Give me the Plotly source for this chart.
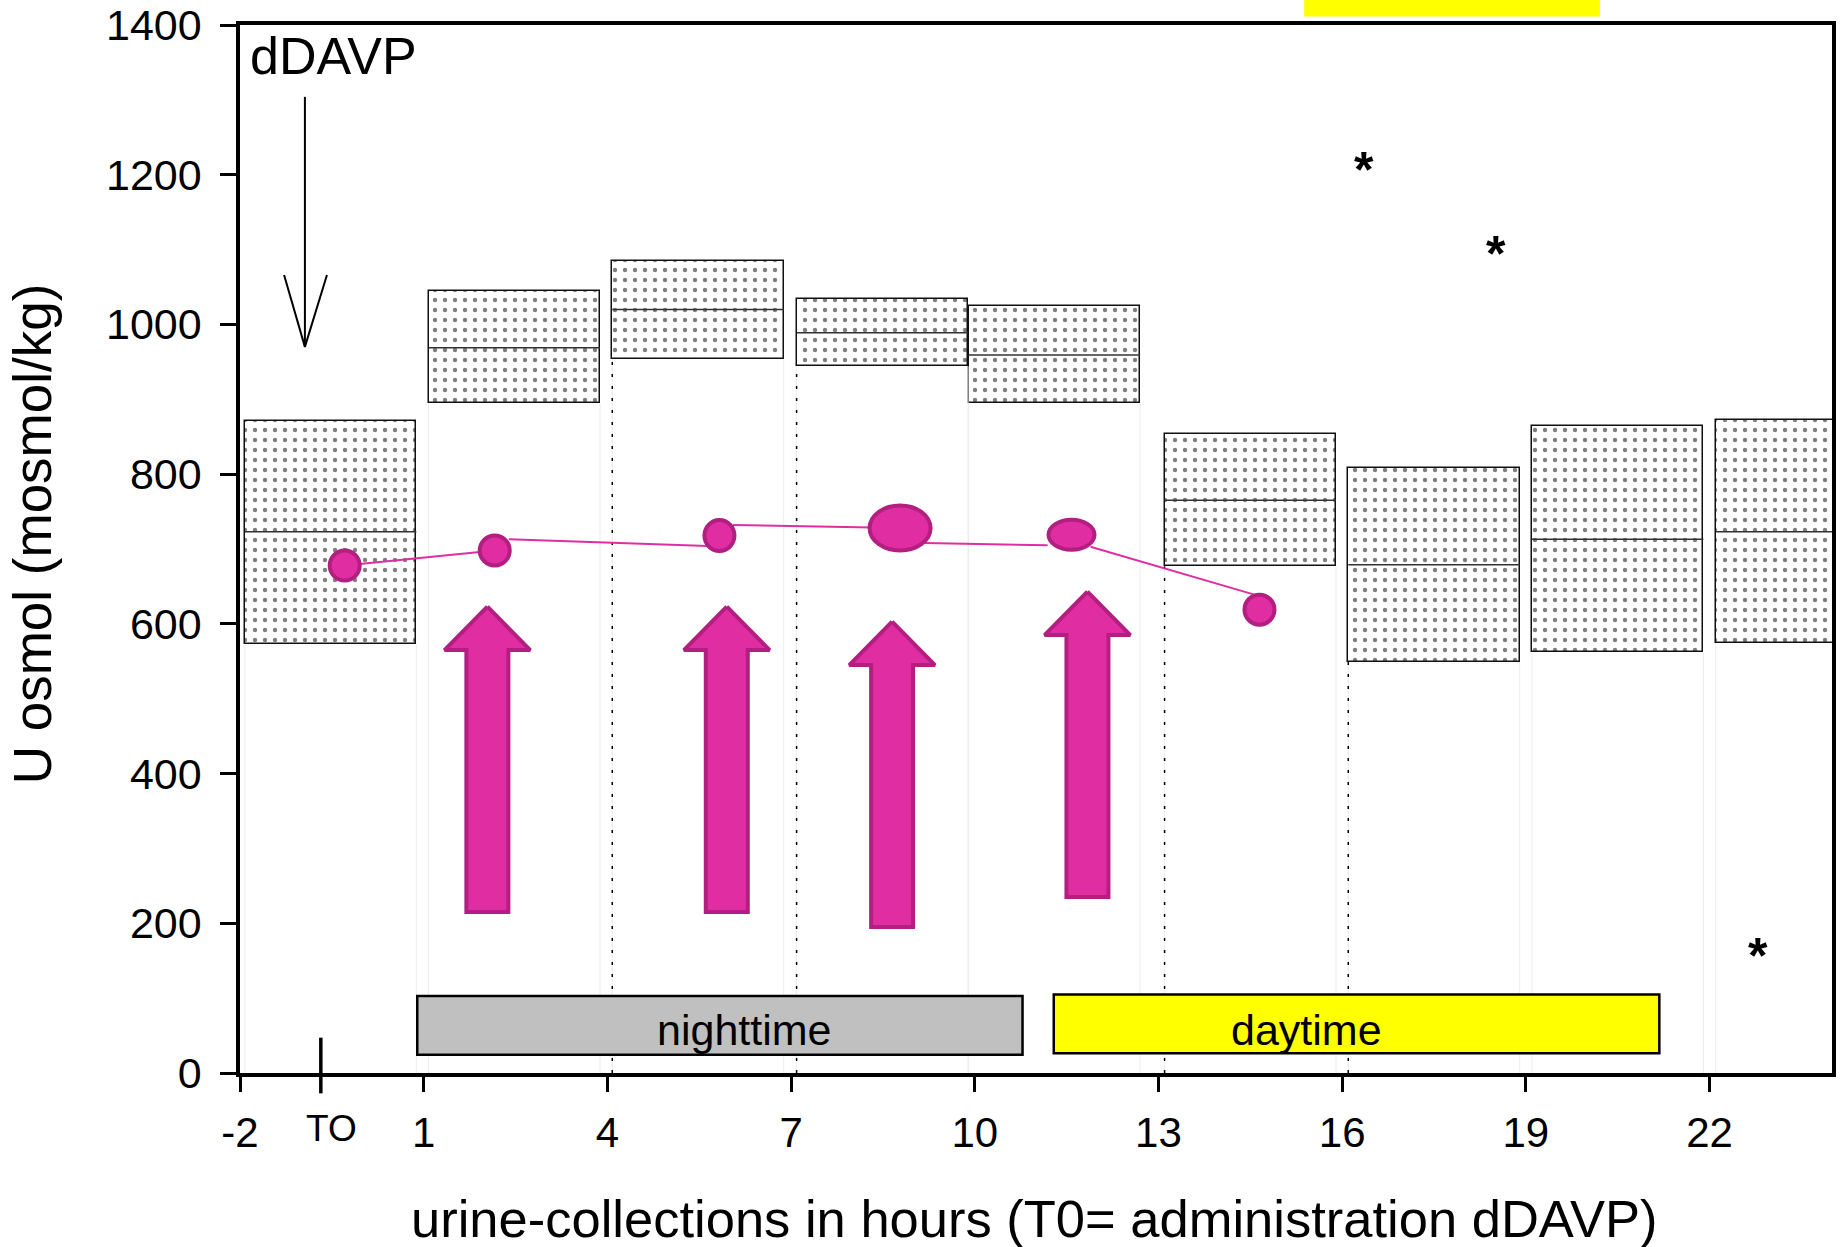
import plotly.graph_objects as go

# ---------------- data ----------------
box_centers = [-0.52, 2.48, 5.48, 8.49, 11.3, 14.5, 17.5, 20.5, 23.5]
box_q1 = [573, 895, 954, 944, 895, 677, 549, 562, 574]
box_median = [723, 969, 1020, 989, 959, 765, 679, 713, 723]
box_q3 = [871, 1044, 1085, 1034, 1025, 853, 808, 864, 872]
dark_whisker_boxes = [2, 3, 5, 6]          # boxes whose left edge has a dark dotted line

outlier_x = [16.36, 18.51, 22.79]
outlier_y = [1216, 1104, 165]

point_x = [-0.29, 2.16, 5.83, 8.78, 11.58, 14.65]
point_y = [678, 698, 718, 728, 719, 619]
point_w = [34, 34, 34, 65, 50, 34]         # marker width in px
point_h = [34, 34, 35, 49, 34, 34]         # marker height in px

seg_x0 = [-0.29, 2.39, 6.05, 9.18, 11.89]
seg_y0 = [678, 713, 732, 708, 703]
seg_x1 = [2.16, 5.64, 8.78, 11.19, 14.65]
seg_y1 = [698, 704, 728, 705, 637]

arrow_x = [2.04, 5.95, 8.65, 11.84]
arrow_tip = [623, 623, 603, 643]
arrow_bottom = [215, 215, 195, 235]

night_x = [0.895, 10.78]
night_y = [24.4, 102.9]
day_x = [11.29, 21.18]
day_y = [26.3, 105.0]

dose_x = -0.94
dose_top = 1304
dose_tip = 970
t0_x = -0.68

x_ticks = [-2, 1, 4, 7, 10, 13, 16, 19, 22]
y_ticks = [0, 200, 400, 600, 800, 1000, 1200, 1400]

# ---------------- styling ----------------
FONT = "Liberation Sans, Arial, sans-serif"
MAG = "#E02EA2"
MAG_DARK = "#B21F80"
BOX_W = 2.8
HALF = BOX_W / 2

fig = go.Figure()

# faint and dark dotted whisker lines
fx, fy, dx, dy = [], [], [], []
for i, c in enumerate(box_centers):
    for edge in (c - HALF, c + HALF):
        fx += [edge, edge, None]
        fy += [0, box_q1[i], None]
for i in dark_whisker_boxes:
    e = box_centers[i] - HALF
    dx += [e, e, None]
    dy += [0, box_q1[i], None]
fig.add_trace(go.Scatter(x=fx, y=fy, mode="lines", line=dict(color="#ECECEC", width=1),
                         hoverinfo="skip", showlegend=False))
fig.add_trace(go.Scatter(x=dx, y=dy, mode="lines", line=dict(color="black", width=1.5, dash="3px,9px"),
                         hoverinfo="skip", showlegend=False))

# boxes (interquartile ranges) with dotted pattern
fig.add_trace(go.Bar(
    x=box_centers,
    y=[q3 - q1 for q1, q3 in zip(box_q1, box_q3)],
    base=box_q1,
    width=BOX_W,
    marker=dict(color="white",
                line=dict(color="#111111", width=1.5),
                pattern=dict(shape=".", fgcolor="black", bgcolor="white", size=10, solidity=0.15)),
    hoverinfo="skip", showlegend=False,
))

# medians
mx, my = [], []
for c, m in zip(box_centers, box_median):
    mx += [c - HALF, c + HALF, None]
    my += [m, m, None]
fig.add_trace(go.Scatter(x=mx, y=my, mode="lines", line=dict(color="#333333", width=1.5),
                         hoverinfo="skip", showlegend=False))

# magenta connecting line
lx, ly = [], []
for a, b, c, d in zip(seg_x0, seg_y0, seg_x1, seg_y1):
    lx += [a, c, None]
    ly += [b, d, None]
fig.add_trace(go.Scatter(x=lx, y=ly, mode="lines", line=dict(color=MAG, width=2),
                         hoverinfo="skip", showlegend=False))

# magenta block arrows
HW, SW, HH = 0.70, 0.343, 58
for x, tip, bot in zip(arrow_x, arrow_tip, arrow_bottom):
    hb = tip - HH
    px = [x, x + HW, x + SW, x + SW, x - SW, x - SW, x - HW, x]
    py = [tip, hb, hb, bot, bot, hb, hb, tip]
    fig.add_trace(go.Scatter(x=px, y=py, mode="lines", fill="toself", fillcolor=MAG,
                             line=dict(color=MAG_DARK, width=4), hoverinfo="skip", showlegend=False))

# dDAVP arrow
fig.add_trace(go.Scatter(x=[dose_x, dose_x], y=[dose_top, dose_tip], mode="lines",
                         line=dict(color="black", width=2), hoverinfo="skip", showlegend=False))
fig.add_trace(go.Scatter(x=[dose_x - 0.34, dose_x, dose_x + 0.36], y=[dose_tip + 96, dose_tip, dose_tip + 96],
                         mode="lines", line=dict(color="black", width=2), hoverinfo="skip", showlegend=False))

shapes = []
# points as ellipses (pixel-sized, anchored to data)
for x, y, w, h in zip(point_x, point_y, point_w, point_h):
    shapes.append(dict(type="circle", xref="x", yref="y", xsizemode="pixel", ysizemode="pixel",
                       xanchor=x, yanchor=y, x0=-(w - 4) / 2, x1=(w - 4) / 2,
                       y0=-(h - 4) / 2, y1=(h - 4) / 2,
                       fillcolor=MAG, line=dict(color=MAG_DARK, width=4)))
# night/day bars
shapes.append(dict(type="rect", xref="x", yref="y", x0=night_x[0], x1=night_x[1], y0=night_y[0], y1=night_y[1],
                   fillcolor="#C0C0C0", line=dict(color="black", width=2.5)))
shapes.append(dict(type="rect", xref="x", yref="y", x0=day_x[0], x1=day_x[1], y0=day_y[0], y1=day_y[1],
                   fillcolor="#FFFF00", line=dict(color="black", width=2.5)))
# T0 tick
shapes.append(dict(type="line", xref="x", yref="paper", x0=t0_x, x1=t0_x, y0=-0.0194, y1=0.0337,
                   line=dict(color="black", width=3.5)))
# stray yellow bar above the plot
shapes.append(dict(type="rect", xref="x", yref="paper", x0=15.38, x1=20.21, y0=1.0081, y1=1.05,
                   fillcolor="#FFFF00", line=dict(width=0)))

annotations = [
    dict(text="nighttime", x=6.23, y=57, xref="x", yref="y", showarrow=False,
         xanchor="center", yanchor="middle", font=dict(family=FONT, size=43, color="black")),
    dict(text="daytime", x=15.42, y=57, xref="x", yref="y", showarrow=False,
         xanchor="center", yanchor="middle", font=dict(family=FONT, size=43, color="black")),
    dict(text="dDAVP", x=-0.475, y=1358, xref="x", yref="y", showarrow=False,
         xanchor="center", yanchor="middle", font=dict(family=FONT, size=52, color="black")),
    dict(text="TO", x=-0.507, y=-0.0525, xref="x", yref="paper", showarrow=False,
         xanchor="center", yanchor="middle", font=dict(family=FONT, size=37, color="black")),
    dict(text="urine-collections in hours (T0= administration dDAVP)", x=0.4988, y=-0.1385,
         xref="paper", yref="paper", showarrow=False, xanchor="center", yanchor="middle",
         font=dict(family=FONT, size=52.5, color="black")),
    dict(text="U osmol (mosmol/kg)", x=-0.1305, y=0.5143, xref="paper", yref="paper",
         showarrow=False, textangle=-90, xanchor="center", yanchor="middle",
         font=dict(family=FONT, size=53, color="black")),
]
# outlier asterisks (glyph sits high in its line box, so shift the box down)
for x, y in zip(outlier_x, outlier_y):
    annotations.append(dict(text="*", x=x, y=y, xref="x", yref="y", showarrow=False,
                            xanchor="center", yanchor="middle", yshift=-7,
                            font=dict(family=FONT, size=50, color="black", weight="bold")))

fig.update_layout(
    width=1843, height=1247,
    margin=dict(l=240, r=11, t=25, b=174, autoexpand=False),
    paper_bgcolor="white", plot_bgcolor="white",
    showlegend=False,
    shapes=shapes, annotations=annotations,
    bargap=0,
    xaxis=dict(range=[-2, 24], tickvals=x_ticks, ticktext=[str(v) for v in x_ticks],
               automargin=False,
               showgrid=False, zeroline=False, showline=True, linecolor="black", linewidth=3.5,
               mirror=True, ticks="outside", ticklen=15, tickwidth=3, tickcolor="black",
               tickfont=dict(family=FONT, size=42, color="black"), ticklabelstandoff=5),
    yaxis=dict(range=[0, 1400], tickvals=y_ticks, ticktext=[str(v) for v in y_ticks],
               automargin=False,
               showgrid=False, zeroline=False, showline=True, linecolor="black", linewidth=3.5,
               mirror=True, ticks="outside", ticklen=16, tickwidth=3, tickcolor="black",
               tickfont=dict(family=FONT, size=43, color="black"), ticklabelstandoff=10),
)

fig.write_html("out.html")
